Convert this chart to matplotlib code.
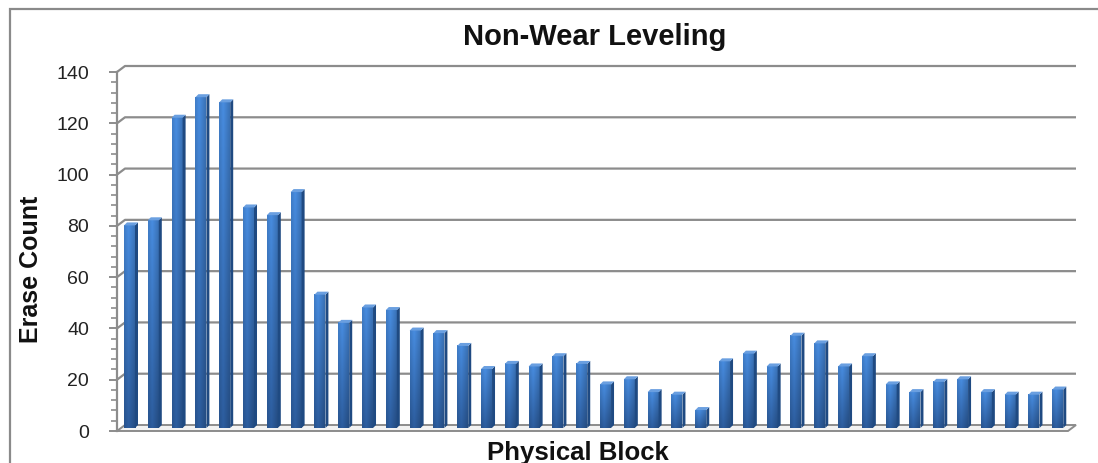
import numpy as np
import matplotlib
matplotlib.use('Agg')
import matplotlib.pyplot as plt
import matplotlib.transforms as mtransforms
from matplotlib.patches import Polygon, Rectangle
from matplotlib.colors import to_rgb
from matplotlib.ticker import MultipleLocator

plt.rcParams['font.family'] = ['Liberation Sans', 'DejaVu Sans']

# erase count per physical block
blocks = np.arange(1, 41)
erase_count = [79, 81, 121, 129, 127, 86, 83, 92, 52, 41,
               47, 46, 38, 37, 32, 23, 25, 24, 28, 25,
               17, 19, 14, 13, 7, 26, 29, 24, 36, 33,
               24, 28, 17, 14, 18, 19, 14, 13, 13, 15]
y_ticks = [0, 20, 40, 60, 80, 100, 120, 140]

W, H = 1098, 463
fig = plt.figure(figsize=(W / 100, H / 100), dpi=100)
fig.patch.set_facecolor('white')

# chart frame
fig.add_artist(Rectangle((10 / W, -0.2), 1.5, (H - 9) / H + 0.2,
                         transform=fig.transFigure, fill=False,
                         ec='#8a8a8a', lw=1.6))

# front plane of the plot area, in pixels
px_l, px_r, px_b, px_t = 117, 1068, 431, 72
ax = fig.add_axes([px_l / W, (H - px_b) / H, (px_r - px_l) / W, (px_b - px_t) / H])
x0, x1 = 0.475, 40.43
y0, y1 = 0, 140
ax.set_facecolor('none')

# pixel -> data unit helpers
xs = (px_r - px_l) / (x1 - x0)
ys = (px_b - px_t) / (y1 - y0)
def ux(p):
    return p / xs
def uy(p):
    return p / ys

grid_c = '#8c8c8c'
wdx, wdy = ux(8), uy(6)      # depth of the back wall
bdx, bdy = ux(0), uy(3)      # bars sit a bit behind the front edge

# floor
floor = Polygon([(x0, 0), (x1, 0), (x1 + wdx, wdy), (x0 + wdx, wdy)],
                closed=True, fc='#f2f2f2', ec=grid_c, lw=1.4, zorder=1,
                clip_on=False)
ax.add_patch(floor)

# back wall gridlines with the little slanted joint at the left wall
for v in y_ticks[1:]:
    ax.plot([x0, x0 + wdx, x1 + wdx], [v, v + wdy, v + wdy],
            color=grid_c, lw=1.6, zorder=1, clip_on=False,
            solid_capstyle='butt')

# column shading: darker at the foot, highlight left of centre
ny, nx = 64, 24
t = np.linspace(0, 1, ny)[:, None, None]
u = np.linspace(0, 1, nx)[None, :, None]
c_bot = np.array(to_rgb('#2a5896'))
c_top = np.array(to_rgb('#4485d4'))
grad = c_bot + (c_top - c_bot) * t
hfac = 0.86 + 0.2 * (1 - np.abs(u - 0.38) / 0.62)
grad = np.clip(grad * hfac, 0, 1)

off = mtransforms.ScaledTranslation(bdx * xs / 100, bdy * ys / 100, fig.dpi_scale_trans)
bar_tr = ax.transData + off

fw = ux(11)     # front face width
sdx, sdy = ux(3), uy(3)
for b, v in zip(blocks, erase_count):
    xl, xr = b - fw / 2, b + fw / 2
    ax.imshow(grad, extent=(xl, xr, 0, v), origin='lower', aspect='auto',
              interpolation='bilinear', transform=bar_tr, zorder=3)
    side = Polygon([(xr, 0), (xr + sdx, sdy), (xr + sdx, v + sdy), (xr, v)],
                   closed=True, fc='#1f4a82', ec='none', zorder=3,
                   transform=bar_tr)
    top = Polygon([(xl, v), (xr, v), (xr + sdx, v + sdy), (xl + sdx, v + sdy)],
                  closed=True, fc='#6a9fe0', ec='none', zorder=3,
                  transform=bar_tr)
    ax.add_patch(side)
    ax.add_patch(top)

ax.set_xlim(x0, x1)
ax.set_ylim(y0, y1)

# value axis on the left wall
for s in ['top', 'right', 'bottom']:
    ax.spines[s].set_visible(False)
ax.spines['left'].set_color(grid_c)
ax.spines['left'].set_linewidth(1.6)
ax.spines['left'].set_zorder(4)
ax.set_xticks([])
ax.set_yticks(y_ticks)
ax.yaxis.set_minor_locator(MultipleLocator(4))
ax.tick_params(axis='y', which='major', length=6, width=1.4, color=grid_c,
               labelsize=14, labelcolor='#222222', pad=14)
ax.tick_params(axis='y', which='minor', length=4, width=1.2, color=grid_c)

fig.text(595 / W, 1 - 45 / H, 'Non-Wear Leveling', ha='center', va='baseline',
         fontsize=21, fontweight='bold', color='#111111')
fig.text(31 / W, 1 - 269 / H, 'Erase Count', ha='center', va='center',
         rotation=90, fontsize=18, fontweight='bold', color='#111111')
fig.text(578 / W, 1 - 460 / H, 'Physical Block', ha='center', va='baseline',
         fontsize=18.5, fontweight='bold', color='#111111')

fig.savefig('out.png', dpi=100, facecolor='white')
